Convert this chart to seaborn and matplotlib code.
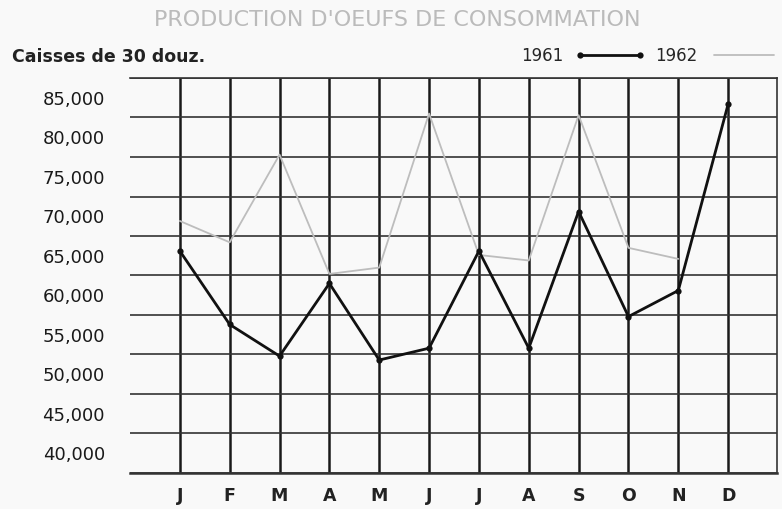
import numpy as np
import pandas as pd
import matplotlib
matplotlib.use("Agg")
import matplotlib.pyplot as plt
import matplotlib.transforms as mtransforms
from matplotlib.ticker import FixedLocator, StrMethodFormatter
import seaborn as sns

# donnees (caisses de 30 douzaines)
mois = ["J", "F", "M", "A", "M", "J", "J", "A", "S", "O", "N", "D"]
prod_1961 = [65600, 56300, 52300, 61500, 51800, 53300, 65600, 53300, 70600, 57300, 60600, 84200]
prod_1962 = [69400, 66700, 77800, 62700, 63500, 83000, 65100, 64400, 82800, 66000, 64600, np.nan]
y_ticks = [40000, 45000, 50000, 55000, 60000, 65000, 70000, 75000, 80000, 85000]

df = pd.DataFrame({
    "idx": list(range(12)) * 2,
    "valeur": prod_1961 + prod_1962,
    "annee": ["1961"] * 12 + ["1962"] * 12,
})

sns.set_style("white")
plt.rcParams["font.family"] = ["DejaVu Sans"]

fig = plt.figure(figsize=(7.82, 5.09), dpi=100, facecolor="#f9f9f9")
ax = fig.add_axes([130 / 782, 1 - 473 / 509, 647 / 782, 395 / 509])
ax.set_facecolor("#f9f9f9")

sns.lineplot(data=df[df.annee == "1962"], x="idx", y="valeur", color="#bdbdbd",
             linewidth=1.3, ax=ax, label="1962", zorder=3)
sns.lineplot(data=df[df.annee == "1961"], x="idx", y="valeur", color="#111111",
             linewidth=2.0, marker="o", markersize=4.5, markeredgewidth=0,
             ax=ax, label="1961", zorder=4)

ax.set_xlim(-1, 11.98)
ax.set_ylim(37500, 87500)

ax.set_xticks(range(12))
ax.set_xticklabels(mois, fontsize=12.5, fontweight="bold", color="#222222")
off = mtransforms.ScaledTranslation(0.05, 0, fig.dpi_scale_trans)
for lab in ax.get_xticklabels():
    lab.set_transform(lab.get_transform() + off)

ax.yaxis.set_major_locator(FixedLocator(y_ticks))
ax.yaxis.set_major_formatter(StrMethodFormatter("{x:,.0f}"))
ax.yaxis.set_minor_locator(FixedLocator([v - 2500 for v in y_ticks] + [87500]))
for lab in ax.get_yticklabels():
    lab.set_fontsize(13)
    lab.set_color("#1a1a1a")

ax.tick_params(axis="both", which="both", length=0)
ax.tick_params(axis="y", pad=18)
ax.tick_params(axis="x", pad=10)

ax.grid(False)
ax.xaxis.grid(True, which="major", color="#1a1a1a", linewidth=1.8)
ax.yaxis.grid(True, which="minor", color="#333333", linewidth=1.2)
ax.set_axisbelow(True)

for side in ["top", "right", "bottom"]:
    ax.spines[side].set_visible(True)
    ax.spines[side].set_color("#333333")
ax.spines["top"].set_linewidth(1.2)
ax.spines["right"].set_linewidth(1.2)
ax.spines["bottom"].set_linewidth(1.8)
ax.spines["left"].set_visible(False)

ax.set_xlabel("")
ax.set_ylabel("")

handles, labels = ax.get_legend_handles_labels()
order = [labels.index("1961"), labels.index("1962")]
ax.legend([handles[i] for i in order], [labels[i] for i in order],
          ncol=2, markerfirst=False, frameon=False, numpoints=2,
          handlelength=4.2, handletextpad=0.7, columnspacing=0.6,
          prop={"size": 12}, loc="center right",
          bbox_to_anchor=(779 / 782, 1 - 56 / 509), bbox_transform=fig.transFigure,
          borderaxespad=0, borderpad=0)

fig.text(397 / 782, 1 - 20 / 509, "PRODUCTION D'OEUFS DE CONSOMMATION",
         ha="center", va="center", fontsize=16, color="#bbbbbb")
fig.text(12 / 782, 1 - 57 / 509, "Caisses de 30 douz.",
         ha="left", va="center", fontsize=12.5, fontweight="bold", color="#222222")

fig.savefig("out.png", dpi=100, facecolor=fig.get_facecolor())
